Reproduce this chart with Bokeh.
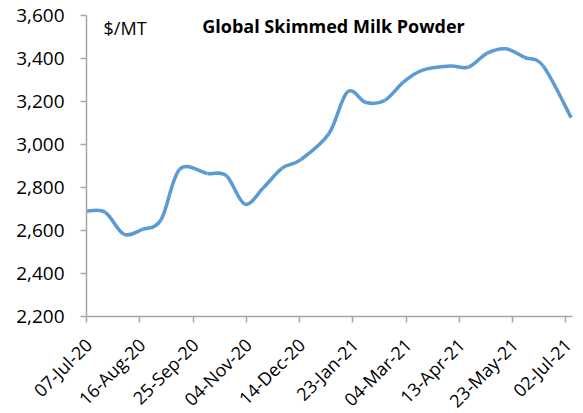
import numpy as np
from bokeh.plotting import figure
from bokeh.models import (ColumnDataSource, Range1d, FixedTicker, NumeralTickFormatter, Label)
from bokeh.embed import file_html
from bokeh.resources import INLINE

# ---- data (GDT fortnightly skimmed milk powder, $/MT) ----
dates = ["2020-07-07", "2020-07-21", "2020-08-04", "2020-08-18", "2020-09-01",
         "2020-09-15", "2020-10-06", "2020-10-20", "2020-11-03", "2020-11-17",
         "2020-12-01", "2020-12-15", "2021-01-05", "2021-01-19", "2021-02-02",
         "2021-02-16", "2021-03-02", "2021-03-16", "2021-04-06", "2021-04-20",
         "2021-05-04", "2021-05-18", "2021-06-01", "2021-06-15", "2021-07-06"]
prices = [2690, 2685, 2583, 2605, 2650,
          2885, 2865, 2855, 2722, 2800,
          2890, 2930, 3050, 3245, 3195,
          3205, 3290, 3345, 3365, 3360,
          3425, 3445, 3405, 3365, 3125]
tick_dates = ["2020-07-07", "2020-08-16", "2020-09-25", "2020-11-04", "2020-12-14",
              "2021-01-23", "2021-03-04", "2021-04-13", "2021-05-23", "2021-07-02"]
tick_labels = ["07-Jul-20", "16-Aug-20", "25-Sep-20", "04-Nov-20", "14-Dec-20",
               "23-Jan-21", "04-Mar-21", "13-Apr-21", "23-May-21", "02-Jul-21"]
y_ticks = [2200, 2400, 2600, 2800, 3000, 3200, 3400, 3600]
x_start, x_end = "2020-07-07", "2021-07-07"
title_text = "Global Skimmed Milk Powder"
unit_text = "$/MT"

def to_ms(d):
    return np.array(d, dtype="datetime64[ms]").astype("int64").astype(float)

x = to_ms(dates)
y = np.array(prices, dtype=float)

# smoothed line (Catmull-Rom style bezier control points, like Excel smoothing)
n = len(x)
xp = np.concatenate([[x[0]], x, [x[-1]]])
yp = np.concatenate([[y[0]], y, [y[-1]]])
i = np.arange(n - 1)
cx0 = x[i] + (xp[i + 2] - xp[i]) / 6.0
cy0 = y[i] + (yp[i + 2] - yp[i]) / 6.0
cx1 = x[i + 1] - (xp[i + 3] - xp[i + 1]) / 6.0
cy1 = y[i + 1] - (yp[i + 3] - yp[i + 1]) / 6.0
src = ColumnDataSource(dict(x0=x[:-1], y0=y[:-1], x1=x[1:], y1=y[1:],
                            cx0=cx0, cy0=cy0, cx1=cx1, cy1=cy1))

FONT = "Open Sans"
AXIS_GRAY = "#a6a6a6"

# The frame covers the whole canvas; both axes are pinned (fixed_location) and
# bounded so that the plotting box sits at left 86, right 572, top 15, bottom 316.
W, H = 583, 413
LEFT, RIGHT, TOP, BOTTOM = 86, 572, 15, 316
xs, xe = float(to_ms(x_start)), float(to_ms(x_end))
y_lo, y_hi = y_ticks[0], y_ticks[-1]
dx = (xe - xs) / (RIGHT - LEFT)
dy = (y_hi - y_lo) / (BOTTOM - TOP)

p = figure(width=W, height=H, x_axis_type="datetime",
           output_backend="svg", toolbar_location=None,
           x_range=Range1d(xs - LEFT * dx, xe + (W - RIGHT) * dx),
           y_range=Range1d(y_lo - (H - BOTTOM) * dy, y_hi + TOP * dy),
           min_border_left=0, min_border_right=0, min_border_top=0,
           min_border_bottom=0)
p.outline_line_color = None
p.xgrid.visible = False
p.ygrid.visible = False
p.background_fill_color = "white"
p.border_fill_color = "white"

p.bezier(x0="x0", y0="y0", x1="x1", y1="y1", cx0="cx0", cy0="cy0",
         cx1="cx1", cy1="cy1", source=src, line_color="#5B9BD5", line_width=3.5)

tick_ms = [float(t) for t in to_ms(tick_dates)]
xa = p.xaxis[0]
xa.fixed_location = y_lo
xa.bounds = (xs, xe)
xa.ticker = FixedTicker(ticks=tick_ms)
xa.major_label_overrides = {t: "" for t in tick_ms}
ya = p.yaxis[0]
ya.fixed_location = xs
ya.bounds = (y_lo, y_hi)
ya.ticker = FixedTicker(ticks=y_ticks)
ya.formatter = NumeralTickFormatter(format="0,0")
ya.major_label_standoff = 16

for ax in (xa, ya):
    ax.axis_line_color = AXIS_GRAY
    ax.axis_line_width = 1.5
    ax.major_tick_line_color = AXIS_GRAY
    ax.major_tick_line_width = 1.5
    ax.major_tick_out = 6
    ax.major_tick_in = 0
    ax.minor_tick_line_color = None
    ax.major_label_text_font = FONT
    ax.major_label_text_font_size = "19px"
    ax.major_label_text_color = "#000000"

# rotated date labels, right end just below each tick
for tx, tl in zip(tick_ms, tick_labels):
    p.add_layout(Label(x=tx + 2 * dx, y=y_lo - 25 * dy, text=tl, angle=np.pi / 4,
                       text_align="right", text_baseline="middle",
                       text_font=FONT, text_font_size="18px", text_color="#000000"))

day = 86400000.0
p.add_layout(Label(x=xs + 12.8 * day, y=3544, text=unit_text, text_font=FONT,
                   text_font_size="18px", text_color="#000000",
                   text_baseline="alphabetic", text_align="left"))
p.add_layout(Label(x=xs + 185.5 * day, y=3553, text=title_text, text_font=FONT,
                   text_font_size="18px", text_font_style="bold",
                   text_color="#000000", text_baseline="alphabetic",
                   text_align="center"))

open("out.html", "w").write(file_html(p, INLINE))
